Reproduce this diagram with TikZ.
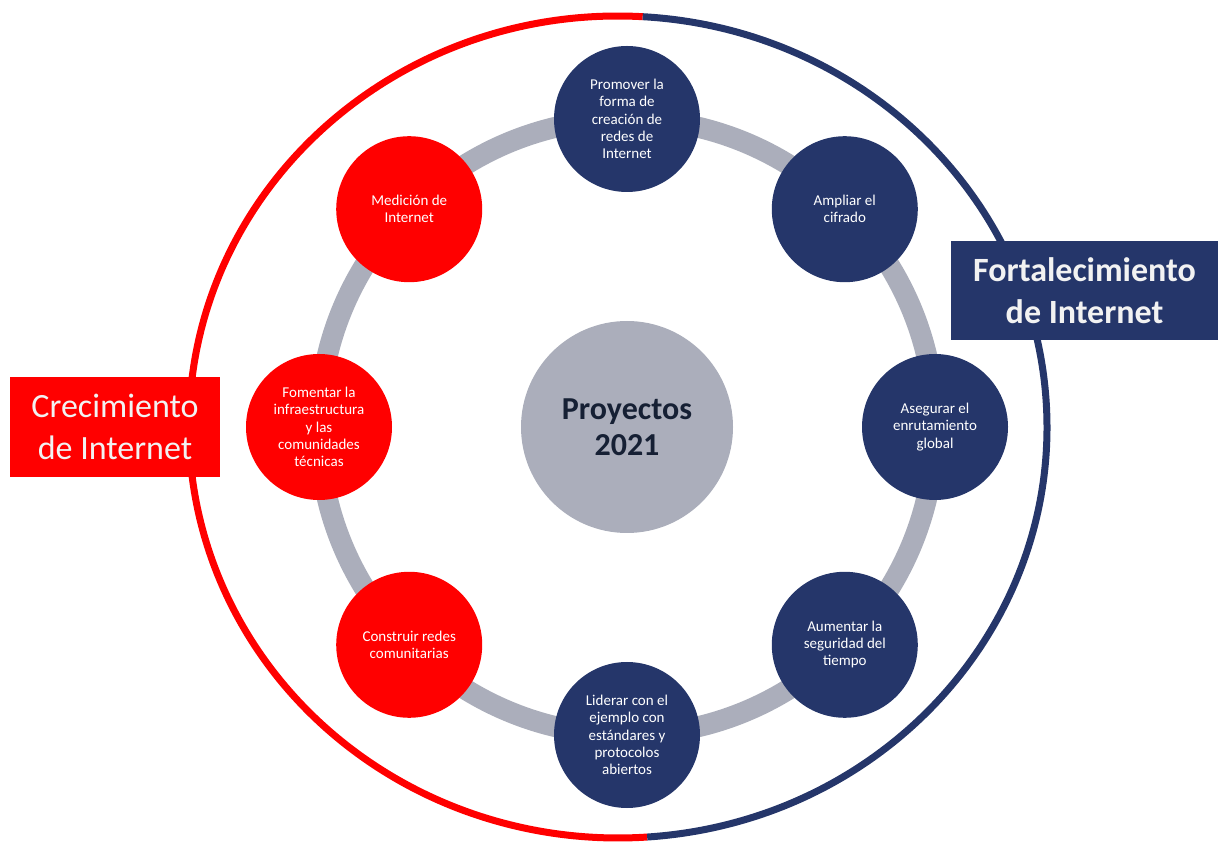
\documentclass[tikz,border=0pt]{standalone}
\usepackage{fontspec}
\setmainfont{Carlito}
\definecolor{rojo}{RGB}{255,0,0}
\definecolor{marino}{RGB}{37,54,106}
\definecolor{gris}{RGB}{171,174,187}
\definecolor{tinta}{RGB}{22,32,52}
\begin{document}
\begin{tikzpicture}[x=1pt,y=1pt,
    proyecto/.style={circle,minimum size=146pt,inner sep=0pt,align=center,text=white,font=\fontsize{15}{17.2}\selectfont},
    etiqueta/.style={inner sep=0pt,align=center,text=white!95!black,font=\fontsize{34}{41.5}\selectfont}]
          \useasboundingbox (0,0) rectangle (1218,841);
          % anillo exterior
          \draw[rojo,line width=7pt] (618,414) ++(86.7:429pt and 411pt)
            arc[start angle=86.7,end angle=273.9,x radius=429pt,y radius=411pt];
          \draw[marino,line width=7pt] (618,414) ++(-86.1:429pt and 411pt)
            arc[start angle=-86.1,end angle=86.7,x radius=429pt,y radius=411pt];
          % anillo gris
          \draw[gris,line width=21pt] (627,414) circle[radius=308pt];
          \node[circle,fill=gris,minimum size=212pt,inner sep=0pt,align=center,text=tinta,
            font=\fontsize{32}{36}\selectfont\bfseries] (centro) at (627,414) {Proyectos\\2021};
          \foreach \ang/\nombre/\col/\texto in {
              90/promover/marino/{Promover la\\forma de\\creación de\\redes de\\Internet},
              45/ampliar/marino/{Ampliar el\\cifrado},
              0/asegurar/marino/{Asegurar el\\enrutamiento\\global},
              -45/aumentar/marino/{Aumentar la\\seguridad del\\tiempo},
              -90/liderar/marino/{Liderar con el\\ejemplo con\\estándares y\\protocolos\\abiertos},
              -135/construir/rojo/{Construir redes\\comunitarias},
              180/fomentar/rojo/{Fomentar la\\infraestructura\\y las\\comunidades\\técnicas},
              135/medicion/rojo/{Medición de\\Internet}}{
            \path (centro.center) ++(\ang:308) node[proyecto,fill=\col] (\nombre) {\texto};
          }
          % rotulos
          \node[etiqueta,fill=rojo,minimum width=210pt,minimum height=100pt] (crecimiento)
            at (115,414) {Crecimiento\\de Internet};
          \node[etiqueta,fill=marino,minimum width=267pt,minimum height=99pt,
            font=\fontsize{34}{41.5}\selectfont\bfseries] (fortalecimiento)
            at (1084.5,550.5) {Fortalecimiento\\de Internet};
\end{tikzpicture}
\end{document}
